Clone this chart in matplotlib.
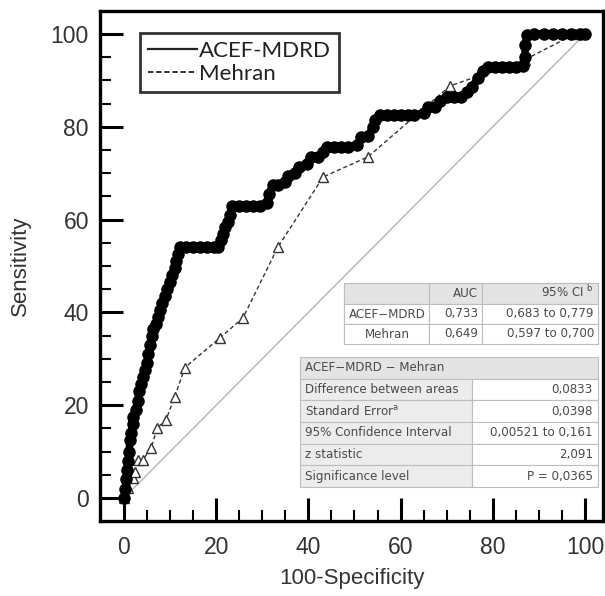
import numpy as np
import matplotlib as mpl
mpl.use('Agg')
import matplotlib.pyplot as plt
from matplotlib.lines import Line2D
from matplotlib.patches import Rectangle

# ROC data (x = 100-Specificity, y = Sensitivity)
acef_x = [0, 0.3, 0.5, 0.6, 0.9, 1.1, 1.3, 1.6, 2.0, 2.0, 2.5, 3.0, 3.3, 3.8, 4.1,
          4.6, 5.0, 5.3, 5.6, 6.0, 6.3, 7.0, 7.4, 7.8, 8.2, 8.8, 9.3, 9.9, 10.4,
          11.0, 11.3, 11.7, 12.1, 13.5, 15, 16.5, 18, 19.5, 20.5, 21, 21.5, 22,
          22.5, 23, 23.5, 25, 26.5, 28, 29.5, 31, 31.5, 32.3, 33.5, 35, 35.5, 37,
          38, 39.7, 40.5, 42, 43.2, 44, 45.5, 47, 48.5, 50.5, 51.5, 53, 54, 54.5,
          55.5, 57, 58.5, 60, 61.5, 63, 65, 66, 67.5, 68.6, 70, 71.5, 73, 74.4,
          75.5, 76.8, 77.9, 79, 80.5, 82, 83.5, 85, 86.5, 87, 87, 87.5, 89, 91,
          93, 95, 97, 99, 100]
acef_y = [0, 2, 4, 6, 8, 10, 12.5, 14, 16, 17.5, 19, 21, 23, 24.5, 26,
          27.5, 29, 31, 33, 35, 36.5, 37.5, 39, 40.5, 42, 43.5, 45, 46.5, 48,
          49.5, 51, 52.5, 54, 54, 54, 54, 54, 54, 54, 55.5, 57, 58.5,
          59.5, 61, 63, 63, 63, 63, 63, 63.5, 65.5, 67.5, 67.5, 68, 69.5, 70,
          71.3, 72, 73.5, 73.5, 74.5, 75.6, 75.6, 75.6, 75.6, 76, 77.8, 78, 80, 81.5,
          82.5, 82.5, 82.5, 82.5, 82.5, 82.5, 83, 84.3, 84.3, 85.5, 86.4, 86.4, 86.4, 87.5,
          88.6, 90.5, 92, 92.9, 92.9, 92.9, 92.9, 92.9, 93, 95, 97.6, 99.8, 100, 100,
          100, 100, 100, 100, 100]

mehran_x = [0, 0.9, 2.0, 2.4, 3.0, 4.1, 5.9, 7.2, 9.1, 11.0, 13.2, 20.8, 25.8,
            33.4, 43.2, 52.9, 70.7, 87.0, 97.8, 99.6]
mehran_y = [0, 2.2, 4.3, 5.6, 8.2, 8.2, 10.8, 15.1, 16.8, 21.8, 28.1, 34.5, 38.8,
            54.1, 69.2, 73.5, 88.8, 94.5, 100, 100]

# Tables
auc_header = ['', 'AUC', '95% CI $^{\\mathrm{b}}$']
auc_rows = [['ACEF\u2212MDRD', '0,733', '0,683 to 0,779'],
            ['Mehran', '0,649', '0,597 to 0,700']]
diff_title = 'ACEF\u2212MDRD \u2212 Mehran'
diff_labels = ['Difference between areas', 'Standard Error$^{\\mathrm{a}}$',
               '95% Confidence Interval', 'z statistic', 'Significance level']
diff_values = ['0,0833', '0,0398', '0,00521 to 0,161', '2,091', 'P = 0,0365']

W, H = 605, 596


def main():
    mpl.rcParams['font.family'] = ['Liberation Sans', 'DejaVu Sans']
    mpl.rcParams['mathtext.fontset'] = 'custom'
    mpl.rcParams['mathtext.rm'] = 'DejaVu Sans'

    fig = plt.figure(figsize=(W / 100, H / 100), dpi=100)
    ax = fig.add_axes([100 / W, 1 - 521 / H, 503 / W, 510 / H])

    ax.plot([0, 100], [0, 100], color='#b4b4b4', lw=1.0, zorder=1)
    ax.plot(mehran_x, mehran_y, color='#333333', lw=1.0, ls=(0, (3, 2)),
            marker='^', ms=7, mfc='white', mec='#333333', mew=1.0, zorder=2)
    ax.plot(acef_x, acef_y, color='black', lw=5.5, solid_joinstyle='round',
            solid_capstyle='round', marker='o', ms=8, zorder=3)

    ax.set_xlim(-5.2, 103.9)
    ax.set_ylim(-4.96, 104.96)
    ax.set_xticks(np.arange(0, 101, 20))
    ax.set_yticks(np.arange(0, 101, 20))
    ax.set_xticks(np.arange(0, 101, 5), minor=True)
    ax.set_yticks(np.arange(0, 101, 5), minor=True)
    ax.tick_params(which='major', direction='in', length=16.5, width=2.2,
                   labelsize=16.5, labelcolor='#333333')
    ax.tick_params(which='minor', direction='in', length=8, width=1.5)
    ax.tick_params(axis='x', which='major', pad=11)
    ax.tick_params(axis='y', which='major', pad=8)
    for s in ax.spines.values():
        s.set_linewidth(2.4)

    ax.set_xlabel('100-Specificity', fontsize=16, color='#333333', labelpad=6)
    ax.set_ylabel('Sensitivity', fontsize=16, color='#333333', labelpad=14)

    handles = [Line2D([], [], color='#222222', lw=1.6),
               Line2D([], [], color='#222222', lw=1.3, ls=(0, (3, 1.5)))]
    leg = ax.legend(handles, ['ACEF-MDRD', 'Mehran'], loc='upper left',
                    bbox_to_anchor=((140 - 100) / 503, 1 - (33 - 11) / 510),
                    prop={'family': 'Lato', 'size': 16}, handlelength=2.2,
                    handletextpad=0.1, labelspacing=0.15, borderpad=0.35,
                    frameon=True, fancybox=False, edgecolor='black',
                    borderaxespad=0)
    leg.get_frame().set_linewidth(2.0)
    for t in leg.get_texts():
        t.set_color('#222222')

    # helpers in pixel coordinates
    def rect(x0, y0, x1, y1, fc):
        fig.patches.append(Rectangle((x0 / W, 1 - y1 / H), (x1 - x0) / W,
                                     (y1 - y0) / H, transform=fig.transFigure,
                                     fc=fc, ec='#bdbdbd', lw=0.8, zorder=5))

    def txt(x, y, s, ha):
        fig.text(x / W, 1 - y / H, s, ha=ha, va='center', fontsize=8.6,
                 family='DejaVu Sans', color='#4a4a4a', zorder=6)

    # upper table
    cols = [344, 429, 482, 598]
    rows = [283, 304, 324, 344]
    rect(cols[0], rows[0], cols[3], rows[3], 'white')
    for j in range(3):
        rect(cols[j], rows[0], cols[j + 1], rows[1], '#e4e4e4')
    for i in range(2):
        for j in range(3):
            rect(cols[j], rows[i + 1], cols[j + 1], rows[i + 2], 'white')
    txt(cols[2] - 4, (rows[0] + rows[1]) / 2, auc_header[1], 'right')
    txt(cols[3] - 4, (rows[0] + rows[1]) / 2 - 1, auc_header[2], 'right')
    for i, r in enumerate(auc_rows):
        yc = (rows[i + 1] + rows[i + 2]) / 2
        txt((cols[0] + cols[1]) / 2 + 1, yc, r[0], 'center')
        txt(cols[2] - 4, yc, r[1], 'right')
        txt(cols[3] - 4, yc, r[2], 'right')

    # lower table
    lx0, lx1, lx2 = 300, 472, 598
    top, rh = 357, 21.67
    rect(lx0, top, lx2, top + rh, '#e4e4e4')
    txt(lx0 + 5, top + rh / 2, diff_title, 'left')
    for i, (lab, val) in enumerate(zip(diff_labels, diff_values)):
        y0 = top + rh * (i + 1)
        rect(lx0, y0, lx1, y0 + rh, '#ececec')
        rect(lx1, y0, lx2, y0 + rh, 'white')
        txt(lx0 + 5, y0 + rh / 2, lab, 'left')
        txt(lx2 - 5, y0 + rh / 2, val, 'right')

    fig.savefig('out.png', dpi=100)


if __name__ == '__main__':
    main()
